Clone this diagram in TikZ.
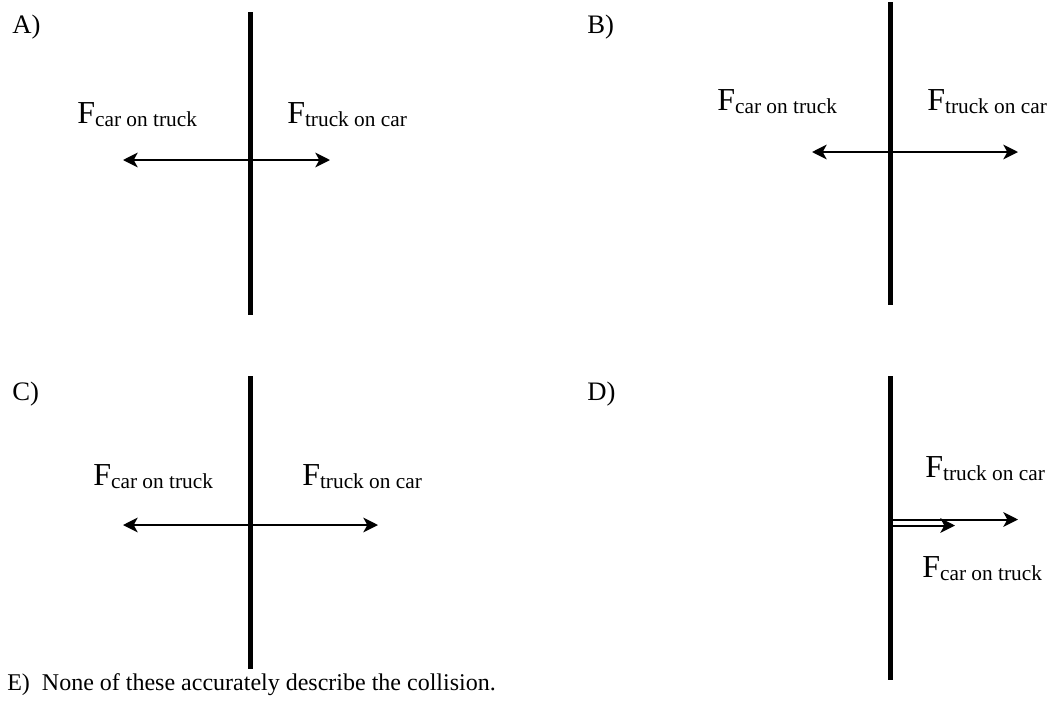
\documentclass[tikz,border=0pt]{standalone}
\usepackage{fontspec}
\setmainfont{Liberation Serif}
\usetikzlibrary{arrows.meta}
\tikzset{
  wall line/.style={line width=3.75pt},
  force arrow/.style={
    -{Stealth[length=11pt, width=11pt, inset=3pt]},
    line width=1.5pt,
  },
  twin arrow/.style={
    {Stealth[length=11pt, width=11pt, inset=3pt]}-{Stealth[length=11pt, width=11pt, inset=3pt]},
    line width=1.5pt,
  },
  panel label/.style={anchor=base west, inner sep=0pt, font=\fontsize{20}{24}\selectfont},
  force label/.style={anchor=base west, inner sep=0pt},
  caption text/.style={anchor=base west, inner sep=0pt, font=\fontsize{18}{22}\selectfont},
}
\newcommand{\forcetxt}[1]{{\fontsize{24}{28}\selectfont F}\raisebox{-2.25pt}{\fontsize{16}{19}\selectfont #1}}

\begin{document}
\begin{tikzpicture}[x=0.75pt, y=-0.75pt]
\useasboundingbox (0,0) rectangle (1051,711);

% --- PANEL A ---
\node[panel label] (labA) at (12,33) {A)};
\coordinate (A-top) at (250,12);
\coordinate (A-bot) at (250,315);
\coordinate (A-l) at (123,160);
\coordinate (A-r) at (330,160);
\draw[wall line] (A-top) -- (A-bot);
\draw[twin arrow] (A-l) -- (A-r);
\node[force label] (carA) at (77,123) {\forcetxt{car on truck}};
\node[force label] (truckA) at (287,123) {\forcetxt{truck on car}};

% --- PANEL B ---
\node[panel label] (labB) at (587,33) {B)};
\coordinate (B-top) at (890,2);
\coordinate (B-bot) at (890,305);
\coordinate (B-l) at (812,152);
\coordinate (B-r) at (1018,152);
\draw[wall line] (B-top) -- (B-bot);
\draw[twin arrow] (B-l) -- (B-r);
\node[force label] (carB) at (717,110) {\forcetxt{car on truck}};
\node[force label] (truckB) at (927,110) {\forcetxt{truck on car}};

% --- PANEL C ---
\node[panel label] (labC) at (12,400) {C)};
\coordinate (C-top) at (250,376);
\coordinate (C-bot) at (250,669);
\coordinate (C-l) at (123,525);
\coordinate (C-r) at (378,525);
\draw[wall line] (C-top) -- (C-bot);
\draw[twin arrow] (C-l) -- (C-r);
\node[force label] (carC) at (93,485) {\forcetxt{car on truck}};
\node[force label] (truckC) at (302,485) {\forcetxt{truck on car}};

% --- PANEL D: both forces point right ---
\node[panel label] (labD) at (587,400) {D)};
\coordinate (D-top) at (890,376);
\coordinate (D-bot) at (890,680);
\coordinate (D-s1) at (892,519.5);
\coordinate (D-e1) at (1018,519.5);
\coordinate (D-s2) at (892,525.5);
\coordinate (D-e2) at (955,525.5);
\draw[wall line] (D-top) -- (D-bot);
\draw[force arrow] (D-s1) -- (D-e1);
\draw[force arrow] (D-s2) -- (D-e2);
\node[force label] (truckD) at (925,477) {\forcetxt{truck on car}};
\node[force label] (carD) at (922,577) {\forcetxt{car on truck}};

% --- CHOICE E ---
\node[caption text] (labE) at (7,690) {E)\ \ None of these accurately describe the collision.};

\end{tikzpicture}
\end{document}
